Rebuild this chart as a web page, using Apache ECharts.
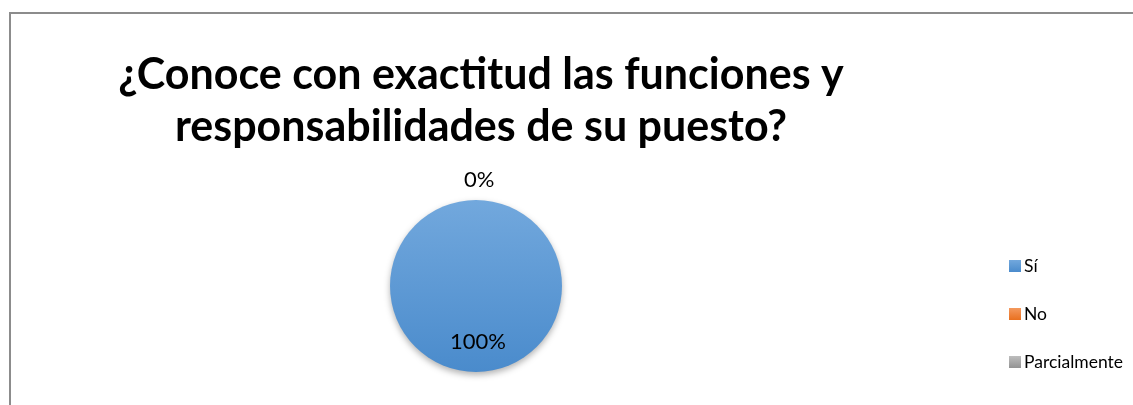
<!DOCTYPE html>
<html>
<head>
<meta charset="utf-8">
<script src="https://cdn.jsdelivr.net/npm/echarts@6/dist/echarts.min.js"></script>
<style>
  html, body { margin: 0; padding: 0; background: #fff; }
  #chart { width: 1133px; height: 405px; }
</style>
</head>
<body>
<div id="chart"></div>
<script>
  // respuestas de la encuesta
  var titleText = '¿Conoce con exactitud las funciones y\nresponsabilidades de su puesto?';
  var categories = ['Sí', 'No', 'Parcialmente'];
  var values = [100, 0, 0];
  var colors = [
    ['#72a8dd', '#4a8bcc'],
    ['#f4995e', '#e9701f'],
    ['#bdbdbd', '#939393']
  ];

  var chart = echarts.init(document.getElementById('chart'));

  var pieData = categories.map(function (name, i) {
    var item = {
      name: name,
      value: values[i],
      itemStyle: {
        color: new echarts.graphic.LinearGradient(0, 0, 0, 1, [
          {offset: 0, color: colors[i][0]},
          {offset: 1, color: colors[i][1]}
        ])
      }
    };
    if (i === 0) {
      item.label = {position: 'inside', offset: [2, 10]};
    } else if (i === 1) {
      item.label = {offset: [-17, -18]};
    } else {
      item.label = {show: false};
    }
    return item;
  });

  var option = {
    backgroundColor: '#fff',
    animation: false,
    title: {
      text: titleText,
      left: 476,
      top: 44,
      textAlign: 'center',
      textStyle: {
        fontFamily: 'Lato',
        fontWeight: 'bold',
        fontSize: 43,
        lineHeight: 52,
        color: '#000'
      }
    },
    legend: {
      orient: 'vertical',
      left: 1004,
      top: 252,
      icon: 'rect',
      itemWidth: 12,
      itemHeight: 12,
      itemGap: 30,
      data: categories,
      textStyle: {
        fontFamily: 'Lato',
        fontSize: 17.5,
        color: '#000',
        padding: [0, 0, 0, -2]
      }
    },
    graphic: [{
      type: 'polyline',
      shape: {points: [[10, 405], [10, 13], [1133, 13]]},
      style: {stroke: '#8c8c8c', lineWidth: 2, fill: null}
    }],
    series: [{
      type: 'pie',
      center: [476, 286],
      radius: 86,
      startAngle: 90,
      clockwise: true,
      avoidLabelOverlap: false,
      data: pieData,
      label: {
        show: true,
        position: 'outside',
        formatter: '{d}%',
        fontFamily: 'Lato',
        fontSize: 22,
        color: '#000'
      },
      labelLine: {show: false, length: 2, length2: 0},
      itemStyle: {
        shadowBlur: 6,
        shadowOffsetY: 3,
        shadowColor: 'rgba(0,0,0,0.3)'
      },
      emphasis: {disabled: true}
    }]
  };

  chart.setOption(option);
</script>
</body>
</html>
